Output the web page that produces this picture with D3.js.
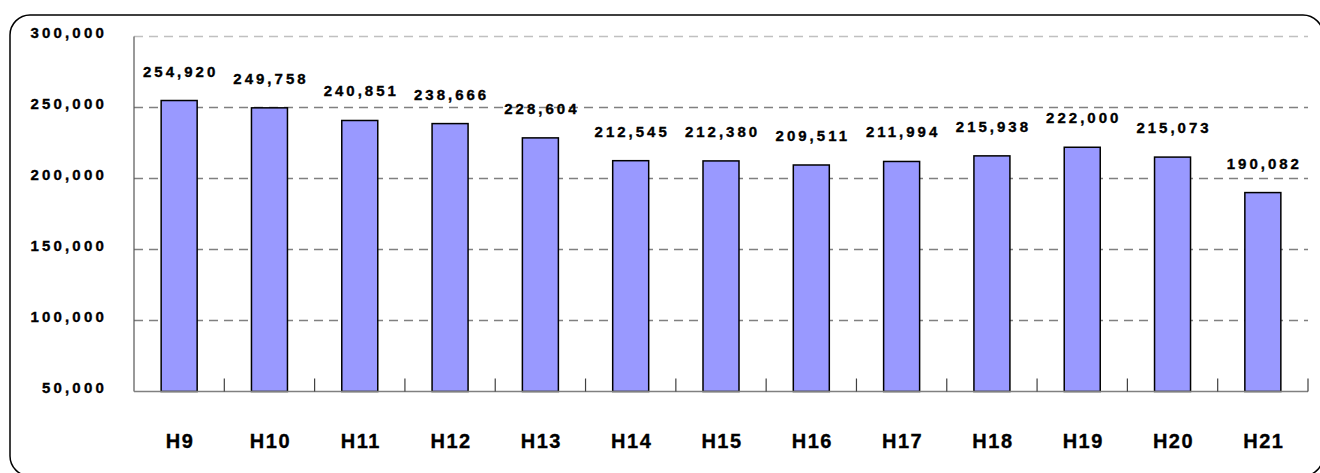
<!DOCTYPE html>
<html>
<head>
<meta charset="utf-8">
<script src="https://cdn.jsdelivr.net/npm/d3@7/dist/d3.min.js"></script>
<style>
html,body{margin:0;padding:0;background:#fff;}
svg{display:block;}
text{font-family:"Liberation Sans",Arial,sans-serif;font-weight:bold;fill:#000;stroke:#000;stroke-width:0.35px;}
</style>
</head>
<body>
<script>
const categories = ["H9","H10","H11","H12","H13","H14","H15","H16","H17","H18","H19","H20","H21"];
const values = [254920,249758,240851,238666,228604,212545,212380,209511,211994,215938,222000,215073,190082];
const yTicks = [50000,100000,150000,200000,250000,300000];
const yDomain = [50000,300000];

const W = 1320, H = 473;
const svg = d3.select("body").append("svg").attr("width",W).attr("height",H);

// border
svg.append("rect").attr("x",10).attr("y",15).attr("width",1313).attr("height",461)
  .attr("rx",20).attr("ry",20).attr("fill","none").attr("stroke","#000").attr("stroke-width",1.5);

const pLeft = 134, pRight = 1308, pTop = 36.5, pBottom = 391.5;
const x = d3.scaleBand().domain(categories).range([pLeft,pRight]).paddingInner(0).paddingOuter(0);
const y = d3.scaleLinear().domain(yDomain).range([pBottom,pTop]);
const fmt = d3.format(",");

// gridlines
svg.append("g").selectAll("line").data(yTicks.filter(d=>d>yDomain[0])).join("line")
  .attr("x1",pLeft).attr("x2",pRight)
  .attr("y1",d=>y(d)).attr("y2",d=>y(d))
  .attr("stroke",d=>d===300000?"#c0c0c0":"#808080")
  .attr("stroke-width",1.5)
  .attr("stroke-dasharray","9,6");

// y labels
svg.append("g").selectAll("text").data(yTicks).join("text")
  .attr("x",107).attr("y",d=>y(d)+1)
  .attr("text-anchor","end")
  .style("font-size","15px").style("letter-spacing","3.2px")
  .text(d=>fmt(d));

// bars
const bw = 36;
svg.append("g").selectAll("rect").data(values).join("rect")
  .attr("x",(d,i)=>x(categories[i])+x.bandwidth()/2-bw/2)
  .attr("width",bw)
  .attr("y",d=>y(d))
  .attr("height",d=>y(yDomain[0])-y(d))
  .attr("fill","#9999ff").attr("stroke","#000").attr("stroke-width",1.5);

// axes lines
svg.append("line").attr("x1",pLeft).attr("x2",pLeft).attr("y1",pTop).attr("y2",pBottom)
  .attr("stroke","#555").attr("stroke-width",1.2);
svg.append("line").attr("x1",pLeft).attr("x2",pRight).attr("y1",pBottom).attr("y2",pBottom)
  .attr("stroke","#808080").attr("stroke-width",1.5);
// category boundary ticks
const bounds = categories.map(c=>x(c)).slice(1).concat([pRight]);
svg.append("g").selectAll("line").data(bounds).join("line")
  .attr("x1",d=>d).attr("x2",d=>d).attr("y1",pBottom).attr("y2",pBottom-13)
  .attr("stroke","#404040").attr("stroke-width",1.2);

// value labels
svg.append("g").selectAll("text").data(values).join("text")
  .attr("x",(d,i)=>x(categories[i])+x.bandwidth()/2+1.5)
  .attr("y",d=>y(d)-24)
  .attr("text-anchor","middle")
  .style("font-size","15px").style("letter-spacing","3px")
  .text(d=>fmt(d));

// category labels
svg.append("g").selectAll("text").data(categories).join("text")
  .attr("x",d=>x(d)+x.bandwidth()/2+1)
  .attr("y",448)
  .attr("text-anchor","middle")
  .style("font-size","20px").style("letter-spacing","1.5px")
  .text(d=>d);
</script>
</body>
</html>
